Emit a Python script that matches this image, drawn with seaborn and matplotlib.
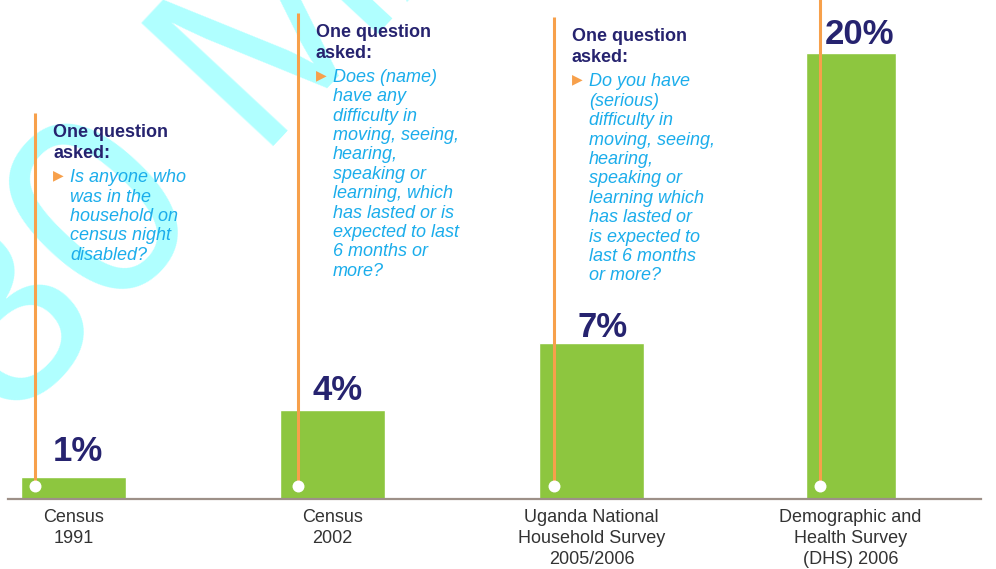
import matplotlib
matplotlib.use('Agg')
import matplotlib.pyplot as plt
import seaborn as sns

# ------- data ------- #
categories = ['Census\n1991', 'Census\n2002',
              'Uganda National\nHousehold Survey\n2005/2006',
              'Demographic and\nHealth Survey\n(DHS) 2006']
values = [1, 4, 7, 20]
value_labels = ['1%', '4%', '7%', '20%']
header_lines = ['One question', 'asked:']
questions = [
    ['Is anyone who', 'was in the', 'household on', 'census night', 'disabled?'],
    ['Does (name)', 'have any', 'difficulty in', 'moving, seeing,', 'hearing,',
     'speaking or', 'learning, which', 'has lasted or is', 'expected to last',
     '6 months or', 'more?'],
    ['Do you have', '(serious)', 'difficulty in', 'moving, seeing,', 'hearing,',
     'speaking or', 'learning which', 'has lasted or', 'is expected to',
     'last 6 months', 'or more?'],
]

# ------- layout / style ------- #
W, H = 996, 569
px_per_cat = 259.0
px_per_pct = 22.3
line_tops = [17.3, 21.8, 21.6, 22.5]   # top ends of the orange lines
line_dx = [14, 18, 15, 14]             # orange line, px right of bar edge
label_off = [(4, 16), (5, 10), (11, 6), (9, 9)]  # % label offsets, px
green = '#8dc63f'
orange = '#f7a04b'
navy = '#26236f'
cyan = '#1badeb'

sns.set_style('white')
plt.rcParams['font.family'] = ['Liberation Sans', 'DejaVu Sans']

fig = plt.figure(figsize=(W / 100, H / 100), dpi=100)
ax = fig.add_axes([8 / W, 70 / H, 973 / W, 499 / H])
ax.patch.set_alpha(0)

# watermark behind everything
fig.text(0.012, 0.25, '30 MAY 2011', rotation=47, rotation_mode='anchor',
         ha='left', va='baseline', fontsize=188, color='#b0ffff',
         family='Liberation Sans', zorder=-1)

sns.barplot(x=categories, y=values, color=green, saturation=1,
            width=105 / px_per_cat, ax=ax)
bars = ax.patches
# last bar is a bit narrower in the original
last = bars[3]
cx = last.get_x() + last.get_width() / 2
last.set_width(90 / px_per_cat)
last.set_x(cx - 45 / px_per_cat)

ax.set_xlim(-65.5 / px_per_cat, 907.5 / px_per_cat)
ax.set_ylim(0, 499 / px_per_pct)
ax.set_yticks([])
ax.set_ylabel('')
sns.despine(ax=ax, left=True)
ax.spines['bottom'].set_color('#9d9088')
ax.spines['bottom'].set_linewidth(1.6)
ax.tick_params(axis='x', length=0, pad=7, labelsize=13, labelcolor='#333333')
for t in ax.get_xticklabels():
    t.set_linespacing(1.32)

for i, bar in enumerate(bars):
    lx = bar.get_x() + line_dx[i] / px_per_cat
    ax.plot([lx, lx], [0.58, line_tops[i]], color=orange, lw=2.2,
            solid_capstyle='butt', zorder=3)
    ax.plot(lx, 0.58, 'o', color='white', ms=8.6, mec='none', zorder=4)
    ax.annotate(value_labels[i], (bar.get_x() + bar.get_width() / 2, values[i]),
                xytext=label_off[i], textcoords='offset pixels', ha='center',
                va='baseline', fontsize=25, fontweight='bold', color=navy)
    if i < len(questions):
        anchor = (lx, line_tops[i])
        for k, hl in enumerate(header_lines):
            ax.annotate(hl, anchor, xytext=(18, -24 - 21 * k),
                        textcoords='offset pixels', ha='left', va='baseline',
                        fontsize=13, fontweight='bold', color=navy)
        ax.annotate('\u25B6', anchor, xytext=(23, -62), textcoords='offset pixels',
                    ha='center', va='center', fontsize=10, color=orange,
                    family='DejaVu Sans')
        for k, ql in enumerate(questions[i]):
            ax.annotate(ql, anchor, xytext=(35, -69 - 19.4 * k),
                        textcoords='offset pixels', ha='left', va='baseline',
                        fontsize=13, style='italic', color=cyan)

fig.savefig('out.png', dpi=100)
